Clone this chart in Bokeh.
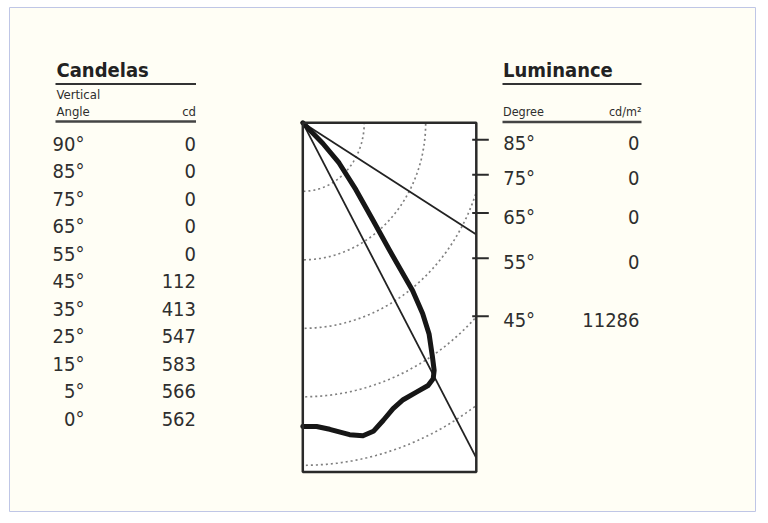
import numpy as np
from bokeh.plotting import figure
from bokeh.models import ColumnDataSource, Range1d
from bokeh.embed import file_html
from bokeh.resources import INLINE
from bokeh.core.properties import value

# ---------------- data ----------------
cd_angle_labels = ["90°", "85°", "75°", "65°", "55°", "45°", "35°", "25°", "15°", "5°", "0°"]
cd_values = [0, 0, 0, 0, 0, 112, 413, 547, 583, 566, 562]

lum_angles = [85, 75, 65, 55, 45]
lum_values = [0, 0, 0, 0, 11286]

# intensity curve (angle from nadir, candela)
curve_deg = [0, 2.9, 5.6, 9.5, 12.1, 14.3, 16.8, 19.4, 22.0, 25.2, 28.0,
             29.6, 30.6, 31.7, 33.7, 35.0, 36.1, 37.2, 38.8, 41.5, 45.2, 47.3, 50]
curve_cd = [554, 555, 562, 577, 584, 581, 567, 553, 545, 543, 543,
            537, 525, 502, 463, 425, 379, 291, 227, 163, 104, 55, 0]

ring_cd = [125, 250, 375, 500, 625]
cutoff_deg = [30, 60]
box_w_cd, box_h_cd = 353, 637

# ---------------- layout ----------------
FIG_W, FIG_H = 768, 523
SX, SY = 0.4915, 0.548          # px per candela (x / y)
OX, OY = 302.3, 122.3           # diagram origin on the page (px)
x0 = -OX / SX
x1 = (FIG_W - OX) / SX
y1 = OY / SY
y0 = -(FIG_H - OY) / SY


def fx(px):  # page px -> data x
    return (px - OX) / SX


def fy(py):  # page py -> data y
    return -(py - OY) / SY


FONT = value("DejaVu Sans Condensed")
INK = "#2e2e2e"
ROW = 20
SHIFT = 0.42  # baseline correction (em)

p = figure(width=FIG_W, height=FIG_H, x_range=Range1d(x0, x1), y_range=Range1d(y0, y1),
           x_axis_type=None, y_axis_type=None, toolbar_location=None,
           output_backend="svg", min_border=0,
           background_fill_color="#ffffff", border_fill_color="#ffffff",
           outline_line_color=None)
p.grid.visible = False

# cream panel
p.quad(left=[fx(9)], right=[fx(755)], top=[fy(7)], bottom=[fy(511)],
       fill_color="#fffef5", line_color="#bfc6e6", line_width=1)

# ---- diagram box ----
p.quad(left=[0], right=[box_w_cd], top=[0], bottom=[-box_h_cd],
       fill_color="white", line_color=None)

# dotted rings clipped to box
for r in ring_cd:
    tmax = np.pi / 2 if r <= box_w_cd else np.arcsin(box_w_cd / r)
    t = np.linspace(0.01, tmax, 160)
    p.line(r * np.sin(t), -r * np.cos(t), line_color="#7f7f7f", line_width=1.7,
           line_dash="2 3")

# cutoff lines
for d in cutoff_deg:
    t = np.radians(d)
    rr = min(box_w_cd / np.sin(t), box_h_cd / np.cos(t))
    p.line([0, rr * np.sin(t)], [0, -rr * np.cos(t)], line_color="#222222", line_width=1.8)

# intensity curve
ct = np.radians(curve_deg)
cr = np.array(curve_cd, dtype=float)
p.line(cr * np.sin(ct), -cr * np.cos(ct), line_color="#161616", line_width=5,
       line_join="round", line_cap="round")

# box outline
p.quad(left=[0], right=[box_w_cd], top=[0], bottom=[-box_h_cd],
       fill_color=None, line_color="#2a2a2a", line_width=2.5)

# luminance ticks on the right edge
lt = np.radians(lum_angles)
tick_y = -box_w_cd / np.tan(lt)
p.segment(x0=[fx(471.7)] * len(lum_angles), y0=tick_y,
          x1=[fx(488.3)] * len(lum_angles), y1=tick_y,
          line_color="#2a2a2a", line_width=2)


def label(x, y, s, size, align="left", bold=False):
    p.text(x=[fx(x)], y=[fy(y)], text=[s], text_font=FONT,
           text_font_style="bold" if bold else "normal",
           text_font_size=f"{size}px", text_color="#222222" if bold else INK,
           text_baseline="alphabetic", text_align=align, y_offset=-SHIFT * size)


# ---------------- Candelas table ----------------
label(56, 77.5, "Candelas", 20, bold=True)
p.segment(x0=[fx(55)], y0=[fy(83.5)], x1=[fx(195.5)], y1=[fy(83.5)], line_color="#333333", line_width=2)
label(56, 99.5, "Vertical", 13)
label(56, 116.7, "Angle", 13)
label(195.5, 116.7, "cd", 13, align="right")
p.segment(x0=[fx(55)], y0=[fy(121)], x1=[fx(195.5)], y1=[fy(121)], line_color="#444444", line_width=2.5)

rows = ColumnDataSource(dict(
    y=[fy(151.7 + 27.5 * i) for i in range(len(cd_values))],
    lab=cd_angle_labels,
    val=[str(v) for v in cd_values],
))
p.text(x=fx(84), y="y", text="lab", source=rows, text_font=FONT, text_font_size=f"{ROW}px",
       text_color=INK, text_align="right", text_baseline="alphabetic", y_offset=-SHIFT * ROW)
p.text(x=fx(195.5), y="y", text="val", source=rows, text_font=FONT, text_font_size=f"{ROW}px",
       text_color=INK, text_align="right", text_baseline="alphabetic", y_offset=-SHIFT * ROW)

# ---------------- Luminance table ----------------
label(502.5, 78.3, "Luminance", 20, bold=True)
p.segment(x0=[fx(502)], y0=[fy(83.5)], x1=[fx(641)], y1=[fy(83.5)], line_color="#333333", line_width=2)
label(502.5, 116.7, "Degree", 12.5)
label(641, 116.7, "cd/m²", 12.5, align="right")
p.segment(x0=[fx(502)], y0=[fy(121.5)], x1=[fx(641)], y1=[fy(121.5)], line_color="#444444", line_width=2.5)

lum_src = ColumnDataSource(dict(
    y=tick_y,
    lab=[f"{a}°" for a in lum_angles],
    val=[str(v) for v in lum_values],
))
p.text(x=fx(502.7), y="y", text="lab", source=lum_src, text_font=FONT, text_font_size=f"{ROW}px",
       text_color=INK, text_baseline="alphabetic", y_offset=12 - SHIFT * ROW)
p.text(x=fx(639), y="y", text="val", source=lum_src, text_font=FONT, text_font_size=f"{ROW}px",
       text_color=INK, text_baseline="alphabetic", text_align="right", y_offset=12 - SHIFT * ROW)

open("out.html", "w").write(file_html(p, INLINE))
